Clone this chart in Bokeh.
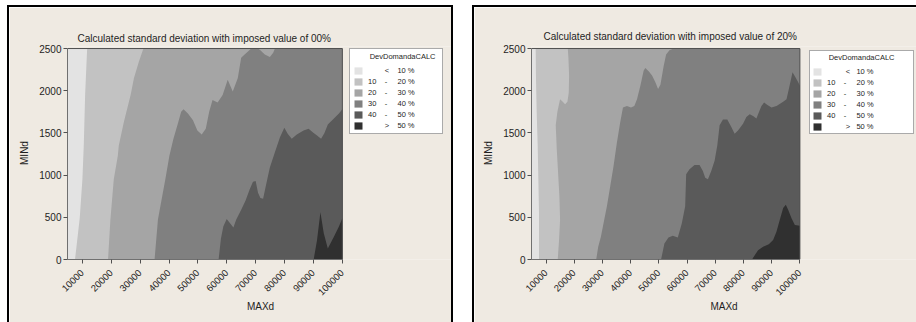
from math import pi
from bokeh.plotting import figure
from bokeh.models import Range1d, FixedTicker, Legend, LegendItem, BasicTickFormatter, Spacer
from bokeh.layouts import row, column
from bokeh.embed import file_html
from bokeh.resources import INLINE

FONT = "Liberation Sans"
BEIGE = "#EFEAE2"
TEXT = "#1E1E1E"

# ---- shared scale / legend data ----
LEVEL_LABELS = ["< 10 %", "10 - 20 %", "20 - 30 %", "30 - 40 %", "40 - 50 %", "> 50 %"]
LEVEL_COLORS = ["#E3E3E3", "#C2C2C2", "#A5A5A5", "#808080", "#5A5A5A", "#303030"]
LEGEND_TITLE = "DevDomandaCALC"
X_TICKS = [10000, 20000, 30000, 40000, 50000, 60000, 70000, 80000, 90000, 100000]
Y_TICKS = [0, 500, 1000, 1500, 2000, 2500]
X_START, X_END = 4850, 100000
Y_START, Y_END = 0, 2500

# ---- panel 1: imposed value 00% (contour boundaries, MAXd vs MINd) ----
P00_TITLE = "Calculated standard deviation with imposed value of 00%"
p00_a_x = [7450, 9080, 10010, 10480, 10950, 11650]
p00_a_y = [0, 490, 950, 1350, 1950, 2500]
p00_b_x = [18880, 19700, 20870, 22270, 22610, 24360, 26700, 27860, 29610, 31130]
p00_b_y = [0, 470, 950, 1230, 1350, 1630, 1950, 2150, 2350, 2500]
p00_c_x = [34990, 36150, 37200, 38720, 40120, 41520, 43040, 44200, 45020, 46540,
           48290, 49810, 51310, 52710, 53900, 55060, 56810, 58560, 60310, 62060,
           63810, 64970, 66160, 68470, 70810, 71620, 73160, 74910, 76060, 76650]
p00_c_y = [0, 470, 670, 950, 1230, 1430, 1610, 1750, 1780, 1730,
           1650, 1530, 1480, 1550, 1750, 1890, 1860, 1950, 2130, 1990,
           2150, 2390, 2430, 2500, 2500, 2480, 2430, 2400, 2450, 2500]
p00_d_x = [57160, 57970, 58790, 59960, 61130, 62290, 63230, 64980, 66500, 67900,
           69060, 69990, 70810, 71630, 72560, 73500, 74900, 76650, 78400, 79920,
           81080, 82480, 84230, 86570, 88320, 90070, 91240, 92640, 93810, 94970,
           97070, 98820, 100000]
p00_d_y = [0, 250, 390, 480, 430, 380, 470, 590, 700, 830,
           920, 930, 790, 730, 720, 870, 1090, 1270, 1450, 1560,
           1490, 1430, 1480, 1530, 1550, 1500, 1470, 1430, 1500, 1600,
           1670, 1730, 1780]
p00_e_x = [90070, 91240, 92410, 93570, 94970, 97070, 98820, 100000]
p00_e_y = [0, 230, 560, 310, 130, 270, 390, 490]

# ---- panel 2: imposed value 20% ----
P20_TITLE = "Calculated standard deviation with imposed value of 20%"
p20_a_x = [7510, 7510, 7280, 7040, 6680, 6440, 6330]
p20_a_y = [0, 550, 950, 1350, 1750, 2140, 2500]
p20_b_x = [14150, 14620, 14980, 14740, 14270, 13800, 13440, 14030, 14980, 15930,
           16760, 17590, 18060, 18180, 17950, 17710]
p20_b_y = [0, 230, 470, 750, 1030, 1310, 1590, 1750, 1900, 1870,
           1840, 1870, 1980, 2180, 2380, 2500]
p20_c_x = [27790, 28500, 29450, 30630, 31580, 32770, 33950, 35140, 36320, 37270,
           38690, 40120, 41300, 42250, 43440, 44620, 45210, 46400, 47590, 48770,
           49720, 50550, 51740, 52570, 53750, 55290]
p20_c_y = [0, 150, 270, 470, 630, 870, 1110, 1390, 1630, 1800,
           1820, 1800, 1820, 1900, 2060, 2240, 2270, 2230, 2180, 2100,
           2020, 2070, 2300, 2430, 2480, 2500]
p20_d_x = [50790, 51970, 53400, 54940, 56720, 58140, 59330, 59680, 60870, 62640,
           64420, 65610, 66440, 67390, 68570, 69760, 70710, 71540, 72720, 74260,
           75690, 76870, 78060, 79840, 81020, 82210, 83400, 84580, 85530, 86360,
           87310, 88490, 89920, 91700, 94070, 95250, 96080, 97390, 98570, 99400,
           100000]
p20_d_y = [0, 190, 260, 280, 260, 430, 630, 1010, 1070, 1120,
           1120, 1050, 970, 950, 1050, 1170, 1350, 1590, 1660, 1660,
           1570, 1490, 1530, 1610, 1690, 1720, 1700, 1670, 1750, 1820,
           1860, 1830, 1800, 1820, 1870, 1900, 2020, 2220, 2150, 2100,
           2060]
p20_e_x = [83040, 83990, 85170, 86950, 88970, 90510, 91690, 92880, 94070, 95010,
           95840, 97030, 98210, 100000]
p20_e_y = [0, 50, 110, 150, 180, 230, 330, 470, 610, 650,
           590, 490, 410, 400]

NB = "\u00a0"
PLOT_H = 209        # pixel height of the contour area
TOP_PAD = 2         # extra frame pixels above the contour area
LEG_H = 84          # expected legend box height
CANVAS_H = 315


def region(bx, by):
    xs, ys = list(bx), list(by)
    if ys[-1] >= Y_END:
        xs.append(X_END)
        ys.append(Y_END)
    xs.append(X_END)
    ys.append(Y_START)
    return xs, ys


def make_panel(title, bounds, cfg):
    pw, fw = cfg["plot_w"], cfg["frame_w"]
    fh = PLOT_H + TOP_PAD
    x_frame_end = X_START + (X_END - X_START) * fw / pw
    y_frame_end = Y_END + (Y_END - Y_START) * TOP_PAD / PLOT_H
    p = figure(frame_width=fw, frame_height=fh,
               min_border_left=cfg["left"], min_border_right=cfg["right"],
               min_border_top=cfg["top"], min_border_bottom=CANVAS_H - cfg["top"] - fh,
               x_range=Range1d(X_START, x_frame_end), y_range=Range1d(Y_START, y_frame_end),
               output_backend="svg", toolbar_location=None,
               border_fill_color=BEIGE, background_fill_color=BEIGE,
               outline_line_color=None, styles=cfg["css"])
    p.grid.visible = False

    renderers = [p.patch([X_START, X_START, X_END, X_END], [Y_START, Y_END, Y_END, Y_START],
                         fill_color=LEVEL_COLORS[0], line_color=None)]
    for k, (bx, by) in enumerate(bounds, start=1):
        xs, ys = region(bx, by)
        renderers.append(p.patch(xs, ys, fill_color=LEVEL_COLORS[k], line_color=None))
    # outline of the contour area (top and right edges)
    p.line([X_START, X_END, X_END], [Y_END, Y_END, Y_START], line_color="#505050", line_width=1)

    p.title.text = title
    p.title.align = "left"
    p.title.offset = cfg["title_offset"]
    p.title.text_font = FONT
    p.title.text_font_size = "10px"
    p.title.text_font_style = "normal"
    p.title.text_color = TEXT
    p.title.standoff = cfg["title_standoff"]

    p.xaxis.ticker = FixedTicker(ticks=X_TICKS)
    p.yaxis.ticker = FixedTicker(ticks=Y_TICKS)
    p.xaxis.bounds = (X_START, X_END)
    p.yaxis.bounds = (Y_START, Y_END)
    p.xaxis.formatter = BasicTickFormatter(use_scientific=False)
    p.yaxis.formatter = BasicTickFormatter(use_scientific=False)
    p.xaxis.major_label_orientation = pi / 4
    p.xaxis.axis_label = "MAXd"
    p.yaxis.axis_label = "MINd"
    for ax in (p.xaxis[0], p.yaxis[0]):
        ax.axis_label_text_font = FONT
        ax.axis_label_text_font_size = "10px"
        ax.axis_label_text_font_style = "normal"
        ax.axis_label_text_color = TEXT
        ax.major_label_text_font = FONT
        ax.major_label_text_color = TEXT
        ax.minor_tick_line_color = None
        ax.major_tick_in = 0
        ax.major_tick_out = 4
        ax.axis_line_color = "#707070"
        ax.major_tick_line_color = "#505050"
    p.yaxis.major_label_text_font_size = "10px"
    p.xaxis.major_label_text_font_size = "9.5px"
    p.xaxis.axis_label_standoff = 0
    p.yaxis.axis_label_standoff = 6
    p.xaxis.major_label_standoff = 8
    p.yaxis.major_label_standoff = 2

    items = [LegendItem(label=lab, renderers=[r]) for lab, r in zip(cfg["labels"], renderers)]
    leg = Legend(items=items, location=(cfg["leg_dx"], fh - TOP_PAD - LEG_H),
                 title=cfg["leg_title"], margin=0, padding=cfg["leg_pad"],
                 spacing=2, glyph_width=10, glyph_height=9, label_height=9,
                 label_standoff=5, label_width=cfg["leg_label_w"], title_standoff=5,
                 label_text_font=FONT, label_text_font_size="7.5px", label_text_color=TEXT,
                 title_text_font=FONT, title_text_font_size="7.5px",
                 title_text_font_style="normal", title_text_color=TEXT,
                 border_line_color="#555555", border_line_width=1,
                 background_fill_color="white", background_fill_alpha=1)
    p.add_layout(leg)
    return p


def labels_left():
    return [NB * 8 + "<" + NB * 4 + "10 %",
            "10" + NB * 4 + "-" + NB * 5 + "20 %",
            "20" + NB * 4 + "-" + NB * 5 + "30 %",
            "30" + NB * 4 + "-" + NB * 5 + "40 %",
            "40" + NB * 4 + "-" + NB * 5 + "50 %",
            NB * 8 + ">" + NB * 4 + "50 %"]


def labels_right():
    return [NB * 9 + "<" + NB * 3 + "10 %",
            "10" + NB * 4 + "-" + NB * 5 + "20 %",
            "20" + NB * 4 + "-" + NB * 5 + "30 %",
            "30" + NB * 4 + "-" + NB * 5 + "40 %",
            "40" + NB * 4 + "-" + NB * 5 + "50 %",
            NB * 9 + ">" + NB * 3 + "50 %"]


cfg1 = dict(plot_w=272, frame_w=382, left=58, right=2, top=39, title_offset=10,
            title_standoff=6, leg_dx=282, leg_pad=3, leg_label_w=71,
            leg_title=NB * 8 + LEGEND_TITLE, labels=labels_left(),
            css={"border-left": "2px solid black", "border-top": "2px solid black",
                 "border-right": "2px solid black", "box-sizing": "content-box"})
cfg2 = dict(plot_w=267, frame_w=383, left=57, right=2, top=39, title_offset=12,
            title_standoff=9, leg_dx=278, leg_pad=2, leg_label_w=84,
            leg_title=NB * 8 + LEGEND_TITLE, labels=labels_right(),
            css={"border-left": "2px solid black", "border-top": "2px solid black",
                 "box-sizing": "content-box"})

p1 = make_panel(P00_TITLE, [(p00_a_x, p00_a_y), (p00_b_x, p00_b_y), (p00_c_x, p00_c_y),
                            (p00_d_x, p00_d_y), (p00_e_x, p00_e_y)], cfg1)
p2 = make_panel(P20_TITLE, [(p20_a_x, p20_a_y), (p20_b_x, p20_b_y), (p20_c_x, p20_c_y),
                            (p20_d_x, p20_d_y), (p20_e_x, p20_e_y)], cfg2)

layout = column(Spacer(height=5),
                row(Spacer(width=7), p1, Spacer(width=19), p2, spacing=0),
                spacing=0)
open("out.html", "w").write(file_html(layout, INLINE))
